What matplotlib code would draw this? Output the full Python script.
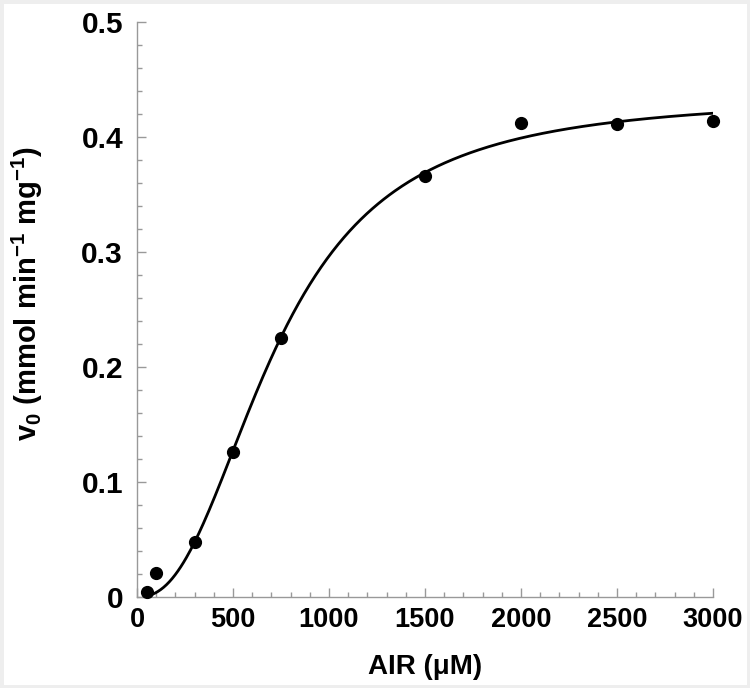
import numpy as np
import matplotlib
matplotlib.use('Agg')
import matplotlib.pyplot as plt
from matplotlib.ticker import MultipleLocator, FuncFormatter

plt.rcParams['font.family'] = ['Liberation Sans', 'DejaVu Sans']
plt.rcParams['font.weight'] = 'bold'
plt.rcParams['mathtext.fontset'] = 'custom'
plt.rcParams['mathtext.rm'] = 'Liberation Sans:bold'
plt.rcParams['mathtext.default'] = 'rm'

# substrate concentration (uM) and initial rate (mmol/min/mg)
air = np.array([50, 100, 300, 500, 750, 1500, 2000, 2500, 3000])
v0 = np.array([0.004, 0.021, 0.048, 0.126, 0.225, 0.366, 0.412, 0.411, 0.414])


def hill(x, vmax, k, n):
    return vmax * x**n / (k**n + x**n)


# least squares Hill fit: grid over K and n, Vmax solved linearly
best = None
for k in np.arange(500, 1200, 2.0):
    for n in np.arange(1.2, 3.6, 0.01):
        f = air**n / (k**n + air**n)
        vmax = np.sum(v0 * f) / np.sum(f * f)
        err = np.sum((v0 - vmax * f) ** 2)
        if best is None or err < best[0]:
            best = (err, vmax, k, n)
_, vmax, k, n = best

xfit = np.linspace(50, 3000, 400)
yfit = hill(xfit, vmax, k, n)

fig = plt.figure(figsize=(7.5, 6.88), dpi=100)
ax = fig.add_axes([137 / 750, 1 - 597 / 688, 576 / 750, 575 / 688])

ax.plot(xfit, yfit, color='black', lw=2.0, zorder=2)
ax.plot(air, v0, 'o', color='black', ms=8.5, zorder=3, clip_on=False)

ax.set_xlim(0, 3000)
ax.set_ylim(0, 0.5)
ax.xaxis.set_major_locator(MultipleLocator(500))
ax.xaxis.set_minor_locator(MultipleLocator(100))
ax.yaxis.set_major_locator(MultipleLocator(0.1))
ax.yaxis.set_minor_locator(MultipleLocator(0.02))
ax.yaxis.set_major_formatter(FuncFormatter(lambda v, p: '0' if abs(v) < 1e-9 else f'{v:.1f}'))

for s in ['top', 'right']:
    ax.spines[s].set_visible(False)
for s in ['left', 'bottom']:
    ax.spines[s].set_color('#999999')
    ax.spines[s].set_linewidth(1.0)

ax.tick_params(which='both', direction='in', color='#999999', width=1.0)
ax.tick_params(which='major', length=6.5)
ax.tick_params(which='minor', length=3.5)
ax.tick_params(axis='y', pad=10, labelsize=21.5)
ax.tick_params(axis='x', pad=7, labelsize=19.5)

ax.set_xlabel('AIR (μM)', fontsize=20, fontweight='bold', labelpad=15)
ax.set_ylabel('v$_0$ (mmol min$^{-1}$ mg$^{-1}$)', fontsize=21, fontweight='bold')
ax.yaxis.set_label_coords(-0.16, 0.527)

fig.patches.append(plt.Rectangle((0, 0), 1, 1, transform=fig.transFigure, fill=False,
                                 edgecolor='#eeeeee', lw=5))

fig.savefig('out.png', dpi=100)
